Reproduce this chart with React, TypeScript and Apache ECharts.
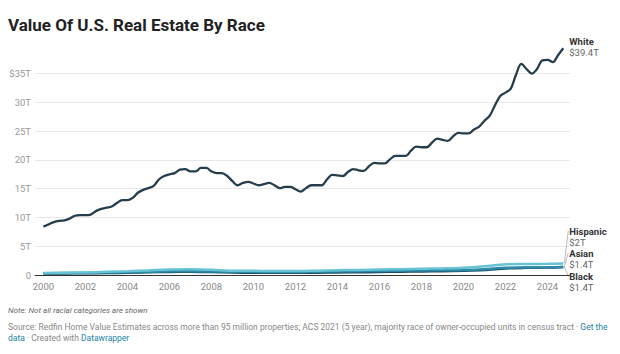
import React, { useEffect, useRef } from "react";
import * as echarts from "echarts";

const quarterYears: number[] = [];
for (let i = 0; i < 100; i++) quarterYears.push(2000 + i * 0.25);

const whiteValues = [
  8.4, 8.8, 9.2, 9.4, 9.5, 9.8, 10.3, 10.4, 10.4, 10.5, 11.1, 11.5,
  11.7, 11.9, 12.5, 13.0, 13.0, 13.4, 14.3, 14.8, 15.1, 15.5, 16.6, 17.2,
  17.5, 17.7, 18.3, 18.4, 18.0, 18.0, 18.6, 18.6, 18.0, 17.7, 17.7, 17.2,
  16.3, 15.6, 16.0, 16.2, 15.9, 15.6, 15.8, 16.0, 15.6, 15.1, 15.3, 15.3,
  14.9, 14.5, 15.1, 15.6, 15.6, 15.6, 16.6, 17.4, 17.3, 17.2, 17.9, 18.4,
  18.2, 18.1, 18.9, 19.5, 19.4, 19.4, 20.1, 20.7, 20.7, 20.7, 21.6, 22.3,
  22.2, 22.2, 23.0, 23.7, 23.5, 23.3, 24.1, 24.7, 24.6, 24.6, 25.3, 25.8,
  26.8, 27.7, 29.5, 31.1, 31.7, 32.4, 34.8, 36.7, 35.8, 35.0, 35.8, 37.3,
  37.4, 37.0, 38.2, 39.4,
];

const annualYears = [
  2000, 2001, 2002, 2003, 2004, 2005, 2006, 2007, 2008, 2009, 2010, 2011, 2012,
  2013, 2014, 2015, 2016, 2017, 2018, 2019, 2020, 2021, 2022, 2023, 2024, 2024.75,
];
const hispanicValues = [
  0.35, 0.4, 0.45, 0.55, 0.65, 0.8, 0.95, 1.0, 0.9, 0.75, 0.72, 0.68, 0.68,
  0.75, 0.82, 0.88, 0.95, 1.02, 1.1, 1.15, 1.25, 1.5, 1.85, 1.9, 1.95, 2.0,
];
const asianValues = [
  0.3, 0.33, 0.36, 0.42, 0.48, 0.56, 0.64, 0.66, 0.62, 0.55, 0.55, 0.53, 0.53,
  0.58, 0.62, 0.66, 0.7, 0.76, 0.8, 0.83, 0.88, 1.02, 1.25, 1.3, 1.33, 1.4,
];
const blackValues = [
  0.25, 0.27, 0.3, 0.34, 0.4, 0.47, 0.54, 0.56, 0.5, 0.42, 0.4, 0.38, 0.37,
  0.4, 0.44, 0.48, 0.52, 0.57, 0.62, 0.66, 0.72, 0.85, 1.15, 1.25, 1.3, 1.4,
];

const xTickYears = [2000, 2002, 2004, 2006, 2008, 2010, 2012, 2014, 2016, 2018, 2020, 2022, 2024];

const seriesNames = ["White", "Hispanic", "Asian", "Black"];
const endLabels = ["$39.4T", "$2T", "$1.4T", "$1.4T"];
const seriesColors = ["#263d4c", "#67c3d3", "#2c89a7", "#1b4d63"];

const FONT = "Roboto, 'Noto Sans', sans-serif";

export default function App() {
  const ref = useRef<HTMLDivElement>(null);
  useEffect(() => {
    if (!ref.current) return;
    const chart = echarts.init(ref.current, undefined, { renderer: "svg" });
    const pair = (xs: number[], ys: number[]) => xs.map((x, i) => [x, ys[i]]);
    const datasets = [
      pair(quarterYears, whiteValues),
      pair(annualYears, hispanicValues),
      pair(annualYears, asianValues),
      pair(annualYears, blackValues),
    ];
    chart.setOption({
      animation: false,
      textStyle: { fontFamily: FONT },
      grid: { left: 35, right: 50, top: 73.6, bottom: 79, containLabel: false },
      xAxis: {
        type: "value",
        min: 1999.6,
        max: 2025.07,
        axisLine: { show: true, onZero: true, lineStyle: { color: "#333", width: 1 } },
        axisTick: { show: false },
        splitLine: { show: false },
        axisLabel: {
          customValues: xTickYears,
          color: "#888",
          fontSize: 9.5,
          margin: 6,
          fontFamily: FONT,
          formatter: (v: number) => String(v),
        },
      },
      yAxis: {
        type: "value",
        min: 0,
        max: 35,
        interval: 5,
        axisLine: { show: false },
        axisTick: { show: false },
        splitLine: { lineStyle: { color: "#e8e8e8", width: 1 } },
        axisLabel: {
          color: "#999",
          fontSize: 9.5,
          margin: 4,
          fontFamily: FONT,
          formatter: (v: number) => (v === 35 ? "$35T" : v === 0 ? "0" : v + "T"),
        },
      },
      series: [3, 2, 1, 0].map((i) => ({
        name: seriesNames[i],
        type: "line",
        data: datasets[i],
        showSymbol: false,
        clip: false,
        smooth: i === 0 ? 0.35 : 0.3,
        z: i === 0 ? 5 : 3,
        lineStyle: { color: seriesColors[i], width: i === 0 ? 2.3 : 2.5 },
      })),
    });

    const ends = datasets.map((d) => chart.convertToPixel({ gridIndex: 0 }, d[d.length - 1]) as number[]);
    const labelTops = [ends[0][1] - 12, 226, 248, 271];
    const graphics: any[] = [
      {
        type: "text",
        left: 8,
        top: 16,
        style: { text: "Value Of U.S. Real Estate By Race", font: `bold 17px ${FONT}`, fill: "#222" },
      },
      {
        type: "text",
        left: 8,
        top: 306,
        style: { text: "Note: Not all racial categories are shown", font: `italic 8px ${FONT}`, fill: "#666" },
      },
      {
        type: "text",
        left: 8,
        top: 321,
        style: {
          text:
            "{s|Source: Redfin Home Value Estimates across more than 95 million properties; ACS 2021 (5 year), majority race of owner-occupied units in census tract · }{l|Get the}\n{l|data}{s| · Created with }{l|Datawrapper}",
          lineHeight: 11,
          rich: {
            s: { font: `8.5px ${FONT}`, fill: "#888", lineHeight: 11 },
            l: { font: `8.5px ${FONT}`, fill: "#1d84a6", lineHeight: 11 },
          },
        },
      },
    ];
    ends.forEach((p, i) => {
      const top = labelTops[i];
      const lx = p[0] + 6;
      graphics.push({
        type: "text",
        x: lx,
        y: top,
        style: { text: seriesNames[i], font: `bold 9.5px ${FONT}`, fill: "#333" },
      });
      graphics.push({
        type: "text",
        x: lx,
        y: top + 11.5,
        style: { text: endLabels[i], font: `9.5px ${FONT}`, fill: "#666" },
      });
      if (i > 0) {
        graphics.push({
          type: "line",
          shape: { x1: p[0] + 1, y1: p[1], x2: lx - 1, y2: top + 5 },
          style: { stroke: "#aaa", lineWidth: 0.8 },
        });
      }
    });
    chart.setOption({ graphic: graphics });
    return () => chart.dispose();
  }, []);
  return <div ref={ref} style={{ width: 620, height: 354, position: "absolute", left: 0, top: 0 }} />;
}
